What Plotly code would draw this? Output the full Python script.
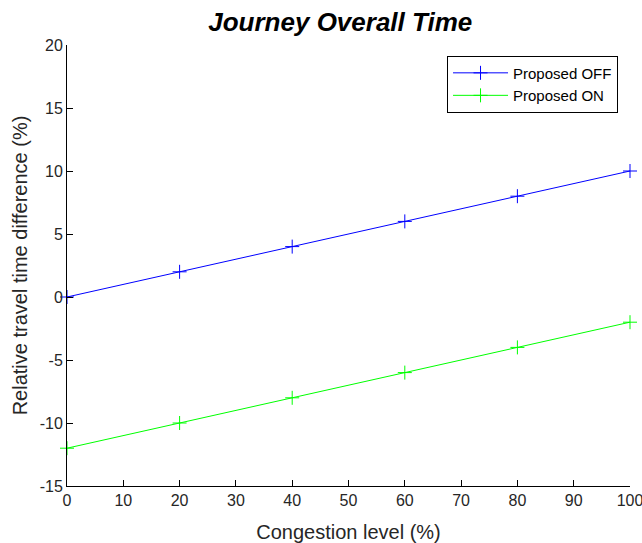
import plotly.graph_objects as go

congestion = [0, 20, 40, 60, 80, 100]
proposed_off = [0, 2, 4, 6, 8, 10]
proposed_on = [-12, -10, -8, -6, -4, -2]
x_ticks = [0, 10, 20, 30, 40, 50, 60, 70, 80, 90, 100]
y_ticks = [-15, -10, -5, 0, 5, 10, 15, 20]
y_tick_labels = ["-15", "-10", "-5", "0", "5", "10", "15", "20"]

fig = go.Figure()
fig.add_trace(go.Scatter(x=congestion, y=proposed_off, mode="lines+markers", name="Proposed OFF",
                         cliponaxis=False,
                         line=dict(color="#0000ff", width=1),
                         marker=dict(symbol="cross-thin", size=10, line=dict(color="#0000ff", width=1))))
fig.add_trace(go.Scatter(x=congestion, y=proposed_on, mode="lines+markers", name="Proposed ON",
                         cliponaxis=False,
                         line=dict(color="#00ff00", width=1),
                         marker=dict(symbol="cross-thin", size=10, line=dict(color="#00ff00", width=1))))

fig.update_layout(
    width=642, height=543,
    margin=dict(l=67, r=12, t=45, b=57, autoexpand=False),
    paper_bgcolor="white", plot_bgcolor="white",
    font=dict(family="Liberation Sans, Arial", color="#262626", size=16),
    title=dict(text="<b><i>Journey Overall Time</i></b>", x=0.53, xanchor="center", y=0.96, yanchor="middle",
               font=dict(size=26, color="black")),
    xaxis=dict(range=[0, 100], tickvals=x_ticks, showline=True, linecolor="black", linewidth=1,
               ticks="inside", ticklen=6, tickcolor="black", showgrid=False, zeroline=False, automargin=False,
               ticklabeloverflow="allow",
               title=dict(text="Congestion level (%)", font=dict(size=20), standoff=16), mirror=False),
    yaxis=dict(range=[-15, 20], tickvals=y_ticks, ticktext=y_tick_labels, showline=True, linecolor="black",
               linewidth=1, ticks="inside", ticklen=6, tickcolor="black", showgrid=False, zeroline=False,
               automargin=False, ticklabeloverflow="allow",
               title=dict(text="Relative travel time difference (%)", font=dict(size=20), standoff=6), mirror=False),
    legend=dict(x=0.675, y=0.976, xanchor="left", yanchor="top", bordercolor="black", borderwidth=1,
                bgcolor="white", font=dict(size=15, color="black"), tracegroupgap=0, itemwidth=55),
    showlegend=True,
)
fig.write_html("out.html", config={"displayModeBar": False},
               post_script="document.body.style.margin='0';document.body.style.overflow='hidden';")
